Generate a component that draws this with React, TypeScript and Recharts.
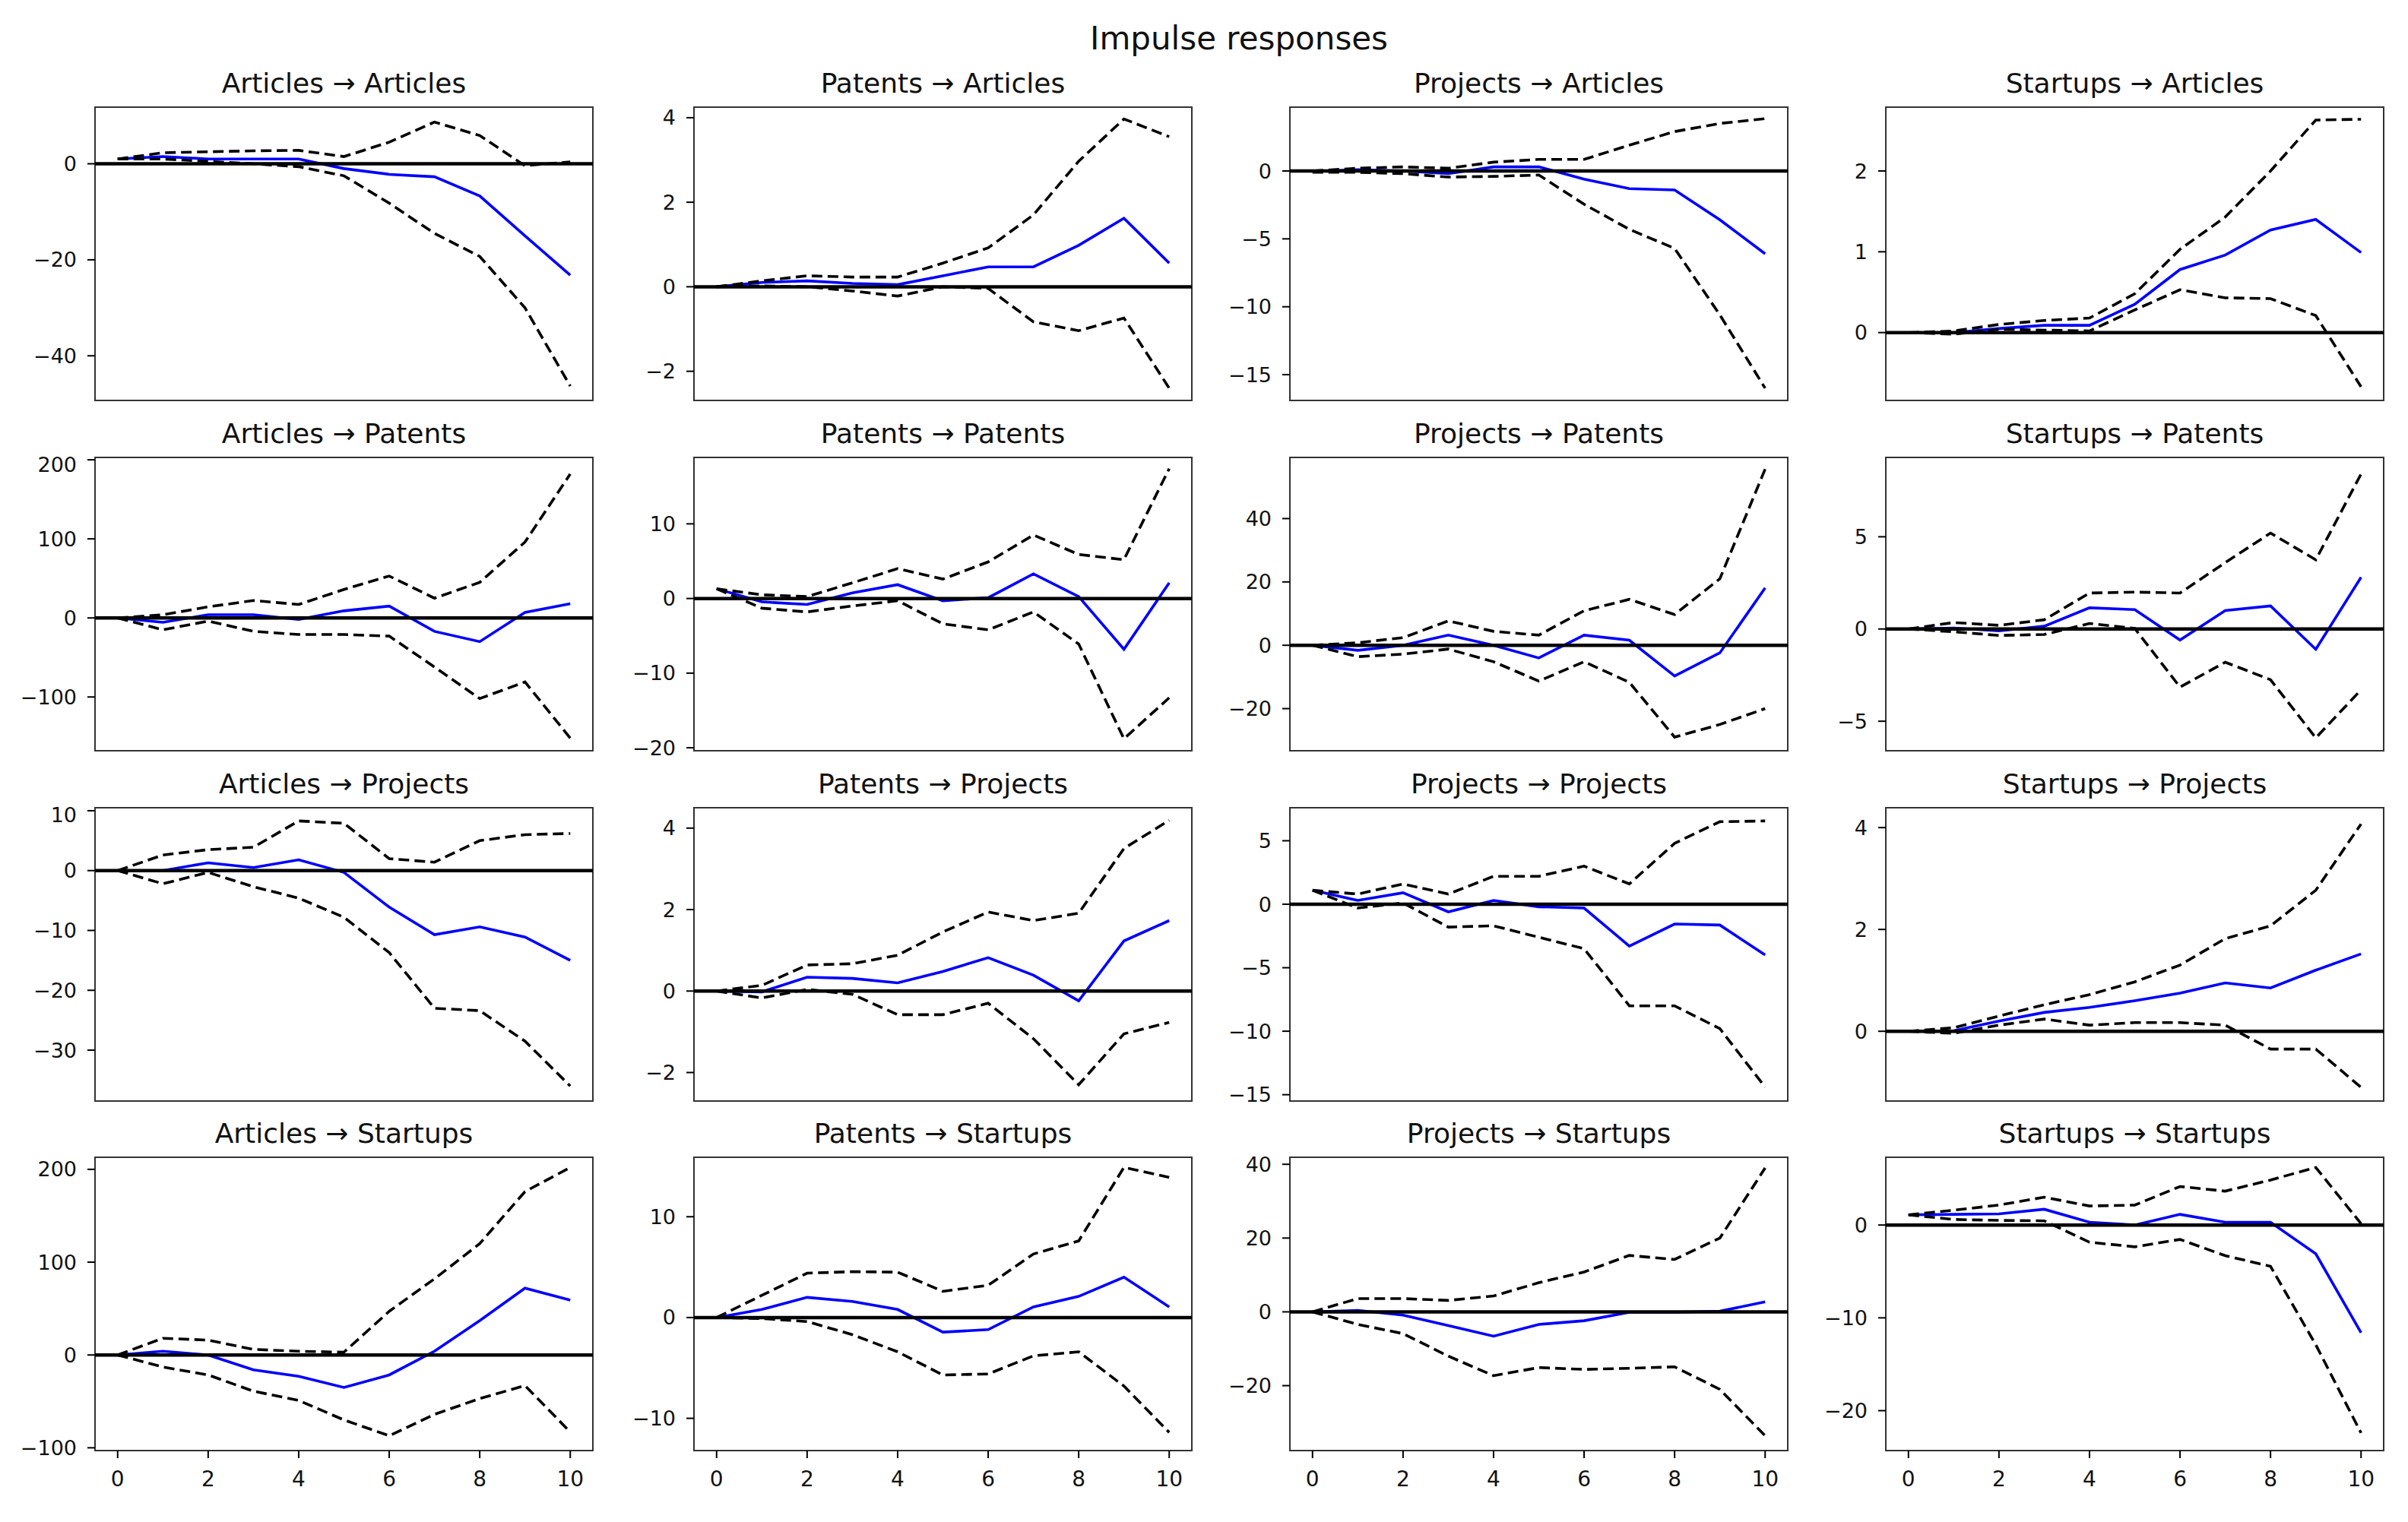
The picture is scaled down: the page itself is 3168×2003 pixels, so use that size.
// @ts-nocheck
import React from "react";
import {
  LineChart,
  Line,
  XAxis,
  YAxis,
  ReferenceLine,
  ReferenceArea,
} from "recharts";

const steps = [0, 1, 2, 3, 4, 5, 6, 7, 8, 9, 10];
const xTicks = [0, 2, 4, 6, 8, 10];
const impulses = ["Articles", "Patents", "Projects", "Startups"];
const responses = ["Articles", "Patents", "Projects", "Startups"];

// panels row by row: response = row, impulse = column
const irfValues = [
  [1, 1.5, 1, 1, 1, -1, -2.2, -2.7, -6.7, -15, -23.2],
  [0, 0.1, 0.14, 0.08, 0.05, 0.26, 0.47, 0.47, 0.98, 1.62, 0.56],
  [-0.05, 0.1, 0, -0.2, 0.3, 0.3, -0.6, -1.3, -1.4, -3.6, -6.1],
  [0, 0, 0.05, 0.09, 0.09, 0.35, 0.78, 0.96, 1.27, 1.4, 0.99],
  [0, -5.5, 4, 4, -2, 9, 15, -17, -30, 7, 18],
  [1.3, -0.45, -0.8, 0.75, 1.85, -0.3, 0.1, 3.3, 0.25, -6.8, 2.1],
  [0, -1.6, 0, 3.2, 0, -4, 3.2, 1.6, -9.7, -2.4, 18.1],
  [0, 0.05, -0.1, 0.15, 1.15, 1.05, -0.6, 1.0, 1.25, -1.1, 2.8],
  [0, 0, 1.3, 0.5, 1.8, -0.3, -6.1, -10.7, -9.4, -11.1, -15],
  [0, -0.02, 0.34, 0.31, 0.2, 0.48, 0.82, 0.39, -0.24, 1.23, 1.73],
  [1.1, 0.3, 0.9, -0.6, 0.3, -0.2, -0.3, -3.3, -1.56, -1.64, -4],
  [0, 0.01, 0.2, 0.37, 0.47, 0.6, 0.75, 0.95, 0.85, 1.2, 1.52],
  [0, 4, 0, -16, -23, -35, -21.5, 4, 37, 72, 59],
  [0, 0.8, 2.0, 1.6, 0.8, -1.45, -1.2, 1.05, 2.1, 4.0, 1.05],
  [0, 0.4, -0.9, -3.7, -6.6, -3.4, -2.4, -0.1, -0.1, 0.2, 2.7],
  [1.1, 1.15, 1.2, 1.7, 0.3, 0, 1.15, 0.3, 0.3, -3.1, -11.6],
];

const upperBand = [
  [1, 2.3, 2.5, 2.7, 2.8, 1.5, 4.5, 8.7, 5.9, -0.4, 0.4],
  [0, 0.14, 0.26, 0.23, 0.23, 0.56, 0.92, 1.7, 2.97, 3.97, 3.55],
  [0, 0.2, 0.3, 0.2, 0.65, 0.85, 0.85, 1.9, 2.9, 3.5, 3.85],
  [0, 0.02, 0.1, 0.15, 0.18, 0.48, 1.03, 1.43, 2.0, 2.63, 2.64],
  [0, 4, 14, 22, 17, 36, 53, 25, 45, 96, 182],
  [1.3, 0.5, 0.25, 2.1, 4.0, 2.6, 4.9, 8.5, 5.9, 5.2, 17.4],
  [0, 0.8, 2.4, 7.7, 4.4, 3.2, 10.9, 14.5, 9.7, 21, 55.6],
  [0, 0.35, 0.2, 0.5, 1.95, 2.0, 1.95, 3.6, 5.2, 3.75, 8.4],
  [0, 2.6, 3.5, 3.9, 8.3, 7.9, 2, 1.4, 5, 6, 6.2],
  [0, 0.14, 0.64, 0.67, 0.88, 1.45, 1.94, 1.73, 1.91, 3.5, 4.19],
  [1.1, 0.8, 1.6, 0.8, 2.2, 2.2, 3.0, 1.6, 4.8, 6.5, 6.56],
  [0, 0.07, 0.3, 0.52, 0.72, 0.97, 1.3, 1.82, 2.07, 2.77, 4.07],
  [0, 18, 16, 6, 4, 3, 47, 82, 120, 176, 202],
  [0, 2.2, 4.4, 4.55, 4.5, 2.6, 3.2, 6.3, 7.6, 14.9, 13.9],
  [0, 3.6, 3.6, 3.1, 4.3, 7.9, 10.8, 15.3, 14.2, 20, 39],
  [1.1, 1.6, 2.15, 3.0, 2.05, 2.15, 4.15, 3.65, 4.85, 6.2, 0.15],
];

const lowerBand = [
  [1, 1, 0.5, 0, -0.6, -2.5, -8.2, -14.5, -19.3, -30, -46.3],
  [0, 0.02, 0, -0.1, -0.22, 0, -0.04, -0.83, -1.04, -0.74, -2.4],
  [-0.1, -0.1, -0.2, -0.45, -0.4, -0.3, -2.45, -4.3, -5.7, -10.6, -16],
  [0, -0.02, 0.04, 0.03, 0.02, 0.28, 0.53, 0.43, 0.42, 0.21, -0.67],
  [0, -15, -4, -17, -21, -21, -23, -62, -102, -81, -152],
  [1.3, -1.3, -1.8, -1, -0.3, -3.4, -4.2, -1.8, -6.1, -18.8, -13.3],
  [0, -3.6, -2.8, -1.2, -5.2, -11.3, -5.2, -11.7, -29, -25, -20],
  [0, -0.15, -0.35, -0.3, 0.3, 0.03, -3.15, -1.8, -2.75, -5.9, -3.3],
  [0, -2.2, -0.3, -2.7, -4.6, -7.8, -13.7, -23, -23.4, -28.5, -36],
  [0, -0.17, 0.04, -0.08, -0.58, -0.58, -0.3, -1.17, -2.3, -1.05, -0.77],
  [1.1, -0.3, 0.1, -1.8, -1.7, -2.6, -3.5, -8, -8, -9.8, -14.4],
  [0, -0.04, 0.12, 0.24, 0.12, 0.17, 0.17, 0.12, -0.35, -0.35, -1.1],
  [0, -13, -21.5, -39, -49, -70, -87, -64, -47, -33, -83],
  [0, -0.1, -0.4, -1.7, -3.4, -5.7, -5.6, -3.8, -3.4, -6.8, -11.4],
  [0, -3.4, -5.9, -12, -17.3, -15.1, -15.6, -15.3, -14.9, -21, -33.6],
  [1.1, 0.6, 0.5, 0.45, -1.85, -2.35, -1.55, -3.3, -4.45, -12.9, -22.4],
];

const yLimits = [
  [-49.3, 11.8], [-2.69, 4.25], [-16.9, 4.7], [-0.84, 2.79],
  [-168, 203], [-20.4, 18.9], [-33.3, 59.3], [-6.6, 9.3],
  [-38.5, 10.5], [-2.7, 4.5], [-15.5, 7.6], [-1.37, 4.39],
  [-103, 213], [-13.2, 15.9], [-37.6, 41.9], [-24.3, 7.3],
];

const yTicks = [
  [-40, -20, 0], [-2, 0, 2, 4], [-15, -10, -5, 0], [0, 1, 2],
  [-100, 0, 100, 200], [-20, -10, 0, 10], [-20, 0, 20, 40], [-5, 0, 5],
  [-30, -20, -10, 0, 10], [-2, 0, 2, 4], [-15, -10, -5, 0, 5], [0, 2, 4],
  [-100, 0, 100, 200], [-10, 0, 10], [-20, 0, 20, 40], [-20, -10, 0],
];

const FONT = "'DejaVu Sans', sans-serif";
const colLeft = [125, 913, 1697, 2481];
const rowTop = [141, 602, 1063, 1523];
const PW = 655;
const PH = 386;
const YW = 110;
const MT = 6;
const MR = 6;
const XH = 70;

const minus = (v) => String(v).replace("-", "\u2212");

function Panel({ idx }) {
  const row = Math.floor(idx / 4);
  const col = idx % 4;
  const [ymin, ymax] = yLimits[idx];
  const data = steps.map((x, k) => ({
    x,
    irf: irfValues[idx][k],
    lower: lowerBand[idx][k],
    upper: upperBand[idx][k],
  }));
  const bottomRow = row === 3;

  return (
    <>
      <div
        style={{
          position: "absolute",
          left: colLeft[col],
          top: rowTop[row] - 49,
          width: PW,
          textAlign: "center",
          fontFamily: FONT,
          fontSize: 36,
          lineHeight: "36px",
          color: "#111",
          whiteSpace: "nowrap",
        }}
      >
        {impulses[col]} → {responses[row]}
      </div>
      <div
        style={{
          position: "absolute",
          left: colLeft[col] - YW,
          top: rowTop[row] - MT,
        }}
      >
        <LineChart
          width={YW + PW + MR}
          height={MT + PH + XH}
          data={data}
          margin={{ top: MT, right: MR, bottom: 0, left: 0 }}
        >
          <XAxis
            type="number"
            dataKey="x"
            domain={[-0.5, 10.5]}
            ticks={xTicks}
            allowDataOverflow
            height={XH}
            axisLine={false}
            tickSize={10}
            tickMargin={17}
            tickLine={{ stroke: "#000", strokeWidth: 2 }}
            tick={
              bottomRow
                ? { fontSize: 28, fill: "#111", fontFamily: FONT }
                : false
            }
          />
          <YAxis
            type="number"
            domain={[ymin, ymax]}
            ticks={yTicks[idx]}
            allowDataOverflow
            width={YW}
            axisLine={false}
            tickSize={10}
            tickMargin={14}
            tickLine={{ stroke: "#000", strokeWidth: 2 }}
            tickFormatter={minus}
            tick={{ fontSize: 27, fill: "#111", fontFamily: FONT }}
          />
          <ReferenceArea
            x1={-0.5}
            x2={10.5}
            y1={ymin}
            y2={ymax}
            fill="none"
            stroke="#333"
            strokeWidth={2}
          />
          <Line
            dataKey="irf"
            stroke="#0000ff"
            strokeWidth={3.6}
            dot={false}
            isAnimationActive={false}
          />
          <Line
            dataKey="lower"
            stroke="#000"
            strokeWidth={3.6}
            strokeDasharray="14 7"
            dot={false}
            isAnimationActive={false}
          />
          <Line
            dataKey="upper"
            stroke="#000"
            strokeWidth={3.6}
            strokeDasharray="14 7"
            dot={false}
            isAnimationActive={false}
          />
          <ReferenceLine y={0} stroke="#000" strokeWidth={4.5} />
        </LineChart>
      </div>
    </>
  );
}

export default function App() {
  return (
    <div
      style={{
        position: "relative",
        width: 3168,
        height: 2003,
        background: "#fff",
        overflow: "hidden",
      }}
    >
      <style>{`body{margin:0}`}</style>
      <div
        style={{
          position: "absolute",
          left: 1380,
          top: 30,
          width: 500,
          textAlign: "center",
          fontFamily: FONT,
          fontSize: 42,
          lineHeight: "42px",
          color: "#111",
        }}
      >
        Impulse responses
      </div>
      {irfValues.map((_, i) => (
        <Panel key={i} idx={i} />
      ))}
    </div>
  );
}
